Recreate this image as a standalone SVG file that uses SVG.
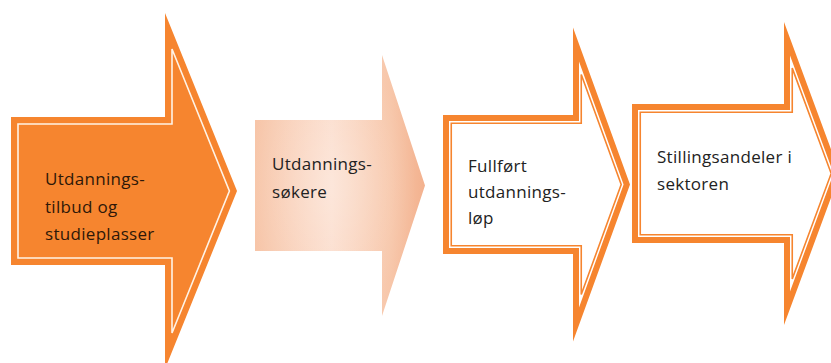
<svg xmlns="http://www.w3.org/2000/svg" width="831" height="363" viewBox="0 0 831 363">
  <style>
    .lbl { font-family: "Open Sans", "Liberation Sans", sans-serif; font-size: 17px; letter-spacing: 0.3px; fill: #222222; }
    .lbl1 { fill: #2e1808; }
    .orange { fill: #f6852f; }
    .white { fill: #ffffff; }
    .wline { fill: none; stroke: #fff3e6; stroke-width: 1.6; }
    .oline { fill: none; stroke: #f6852f; stroke-width: 1.6; }
  </style>
  <defs>
    <linearGradient id="peach" x1="0" y1="0" x2="1" y2="0">
      <stop offset="0" stop-color="#f7c5a8"/>
      <stop offset="0.45" stop-color="#fbdccb"/>
      <stop offset="0.8" stop-color="#f7c6a9"/>
      <stop offset="1" stop-color="#f3b18e"/>
    </linearGradient>
    <radialGradient id="glow" cx="0.45" cy="0.5" r="0.5">
      <stop offset="0" stop-color="#ffffff" stop-opacity="0.3"/>
      <stop offset="1" stop-color="#ffffff" stop-opacity="0"/>
    </radialGradient>
  </defs>
  <rect width="831" height="363" fill="#ffffff"/>

  <g id="node-utdanningstilbud">
    <polygon class="orange" points="11,117 165,117 165,13 237,191 165,369 165,265 11,265"/>
    <polygon class="wline" points="18,124 172,124 172,49 229.4,191 172,333 172,258 18,258"/>
    <text class="lbl lbl1" x="45" y="185">Utdannings-</text>
    <text class="lbl lbl1" x="45" y="213">tilbud og</text>
    <text class="lbl lbl1" x="45" y="240">studieplasser</text>
  </g>

  <g id="node-utdanningssokere">
    <polygon fill="url(#peach)" points="255,120 382,120 382,55 425,185.5 382,316 382,251 255,251"/>
    <polygon fill="url(#glow)" points="255,120 382,120 382,55 425,185.5 382,316 382,251 255,251"/>
    <text class="lbl" x="272" y="170">Utdannings-</text>
    <text class="lbl" x="272" y="198">søkere</text>
  </g>

  <g id="node-fullfort">
    <polygon class="orange" points="443,115 573,115 573,27.5 630,184.5 573,341.5 573,254 443,254"/>
    <polygon class="white" points="449,121 579,121 579,61.6 623.6,184.5 579,307.4 579,248 449,248"/>
    <polygon class="oline" points="451.25,123.25 581.25,123.25 581.25,74.4 621.2,184.5 581.25,294.6 581.25,245.75 451.25,245.75"/>
    <text class="lbl" x="468" y="172">Fullført</text>
    <text class="lbl" x="468" y="198">utdannings-</text>
    <text class="lbl" x="468" y="224">løp</text>
  </g>

  <g id="node-stillingsandeler">
    <polygon class="orange" points="632,104 784,104 784,22 840,173.5 784,325 784,243 632,243"/>
    <polygon class="white" points="638,110 790,110 790,55.5 833.6,173.5 790,291.5 790,237 638,237"/>
    <polygon class="oline" points="640.25,112.25 792.25,112.25 792.25,68.1 831.2,173.5 792.25,278.9 792.25,234.75 640.25,234.75"/>
    <text class="lbl" x="657" y="163">Stillingsandeler i</text>
    <text class="lbl" x="657" y="190">sektoren</text>
  </g>

  <g id="connectors"/>
</svg>
